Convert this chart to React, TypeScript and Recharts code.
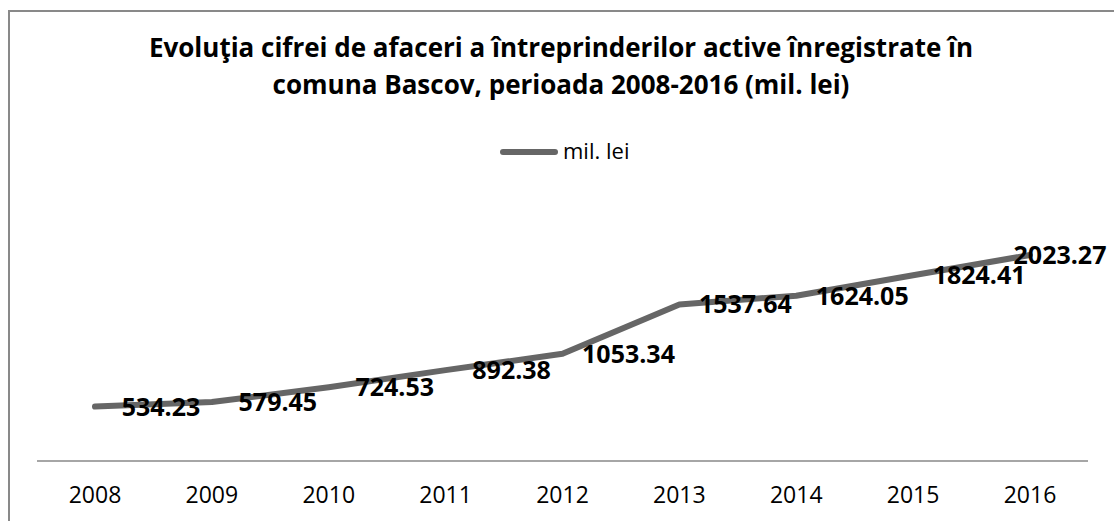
import React from "react";
import { LineChart, Line, XAxis, YAxis, LabelList } from "recharts";

const years = ["2008", "2009", "2010", "2011", "2012", "2013", "2014", "2015", "2016"];
const values = [534.23, 579.45, 724.53, 892.38, 1053.34, 1537.64, 1624.05, 1824.41, 2023.27];
const titleLines = [
  "Evoluţia cifrei de afaceri a întreprinderilor active înregistrate în",
  "comuna Bascov, perioada 2008-2016 (mil. lei)",
];
const seriesName = "mil. lei";

const data = years.map((y, i) => ({ year: y, value: values[i] }));

const FONT = "'Open Sans', 'Noto Sans', sans-serif";
const LINE_COLOR = "#666666";

const renderLabel = (props: any) => {
  const { x, y, value, index } = props;
  const off = index === values.length - 1 ? 30 : 66;
  return (
    <text
      x={x + off}
      y={y}
      dy="0.36em"
      textAnchor="middle"
      fontFamily={FONT}
      fontWeight="bold"
      fontSize={25}
      fill="#000"
    >
      {Number(value).toFixed(2)}
    </text>
  );
};

export default function App() {
  return (
    <div
      style={{
        position: "absolute",
        left: 8,
        top: 10,
        width: 1104,
        height: 509,
        borderTop: "2px solid #898989",
        borderLeft: "2px solid #898989",
        background: "#fff",
        fontFamily: FONT,
      }}
    >
      <svg
        width={1104}
        height={200}
        style={{ position: "absolute", left: 0, top: 0, pointerEvents: "none" }}
      >
        <text x={551} y={45} textAnchor="middle" fontFamily={FONT} fontWeight="bold" fontSize={26} fill="#000">
          {titleLines[0]}
        </text>
        <text x={551} y={82} textAnchor="middle" fontFamily={FONT} fontWeight="bold" fontSize={26} fill="#000">
          {titleLines[1]}
        </text>
        <line x1={493} y1={140} x2={545} y2={140} stroke={LINE_COLOR} strokeWidth={6} strokeLinecap="round" />
        <text x={553} y={147} fontFamily={FONT} fontSize={22} fill="#000">
          {seriesName}
        </text>
      </svg>
      <LineChart
        width={1104}
        height={509}
        data={data}
        margin={{ top: 194.5, right: 26, bottom: 30, left: 27 }}
      >
        <XAxis
          dataKey="year"
          height={30}
          padding={{ left: 58, right: 58 }}
          axisLine={{ stroke: "#888888", strokeWidth: 1.5 }}
          tickLine={false}
          tickSize={0}
          tickMargin={26}
          tick={{ fill: "#000", fontSize: 23, fontFamily: FONT }}
          interval={0}
        />
        <YAxis hide domain={[0, 2500]} />
        <Line
          dataKey="value"
          name={seriesName}
          type="linear"
          stroke={LINE_COLOR}
          strokeWidth={6}
          strokeLinecap="round"
          strokeLinejoin="round"
          dot={false}
          activeDot={false}
          isAnimationActive={false}
        >
          <LabelList dataKey="value" content={renderLabel} />
        </Line>
      </LineChart>
    </div>
  );
}
